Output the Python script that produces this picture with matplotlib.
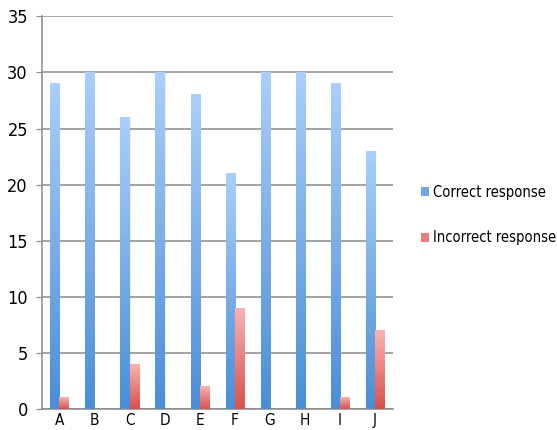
import matplotlib.pyplot as plt
import numpy as np
from matplotlib.colors import LinearSegmentedColormap
from matplotlib.patches import Patch

plt.rcParams['font.family'] = ['DejaVu Sans']
plt.rcParams['font.stretch'] = 'condensed'

categories = ['A', 'B', 'C', 'D', 'E', 'F', 'G', 'H', 'I', 'J']
correct = [29, 30, 26, 30, 28, 21, 30, 30, 29, 23]
incorrect = [1, 0, 4, 0, 2, 9, 0, 0, 1, 7]

# vertical gradients: dark at the base, light at the top
blue_cmap = LinearSegmentedColormap.from_list('blue_grad', ['#4a8ed8', '#aacff9'])
red_cmap = LinearSegmentedColormap.from_list('red_grad', ['#d9504b', '#f9b3b1'])

fig = plt.figure(figsize=(5.57, 4.30), dpi=100)
ax = fig.add_axes([0.075, 0.049, 0.63, 0.913])

x = np.arange(len(categories))
width = 0.26
grad = np.linspace(0, 1, 256).reshape(-1, 1)


def gradient_bars(xs, heights, cmap):
    for xi, h in zip(xs, heights):
        if h <= 0:
            continue
        # soft shadow on the right side of each bar
        ax.bar(xi + 0.03, h, width, bottom=0, color='#000000', alpha=0.06,
               align='center', zorder=2, linewidth=0)
        ax.imshow(grad, extent=[xi - width / 2, xi + width / 2, 0, h],
                  origin='lower', cmap=cmap, aspect='auto', zorder=3)


gradient_bars(x - width / 2, correct, blue_cmap)
gradient_bars(x + width / 2, incorrect, red_cmap)

ax.set_xlim(-0.5, len(categories) - 0.5)
ax.set_ylim(0, 35)
ax.set_yticks(range(0, 36, 5))
ax.set_xticks(x)
ax.set_xticklabels(categories)

ax.yaxis.grid(True, color='#8a8a8a', linewidth=1.1)
ax.set_axisbelow(True)
for side in ['top', 'right']:
    ax.spines[side].set_visible(False)
for side in ['left', 'bottom']:
    ax.spines[side].set_color('#8a8a8a')
    ax.spines[side].set_linewidth(1.1)
ax.tick_params(axis='y', length=4, color='#8a8a8a', labelsize=13, pad=6)
ax.tick_params(axis='x', length=0, labelsize=11, pad=3)

handles = [Patch(facecolor='#6fa6e6', label='Correct response'),
           Patch(facecolor='#ec7f7c', label='Incorrect response')]
fig.legend(handles=handles, loc='center left', bbox_to_anchor=(0.755, 0.5),
           frameon=False, fontsize=10.5, handlelength=0.6, handleheight=0.6,
           handletextpad=0.25, labelspacing=2.1, borderpad=0, borderaxespad=0)

fig.savefig('out.png', dpi=100)
